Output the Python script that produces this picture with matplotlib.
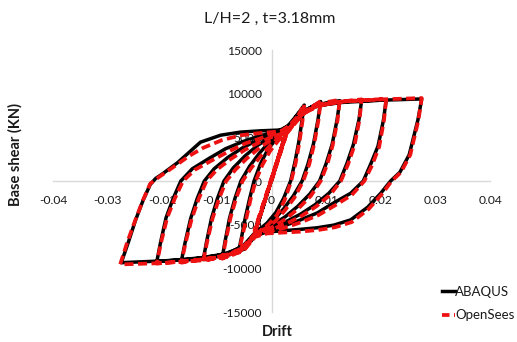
import matplotlib
matplotlib.use("Agg")
import matplotlib.pyplot as plt
from matplotlib.lines import Line2D

# ---------------- data (drift, base shear in kN) ----------------
# ABAQUS (black, solid) - loading history, branch by branch
abq_drift = (
    [0.0, 0.0027, -0.0030, 0.0028, -0.0030]
    + [-0.0015, 0.0027, 0.0045, 0.0060]
    + [0.0056, 0.0050, 0.0043, 0.0035, 0.0022, 0.0008, -0.0008, -0.0025, -0.0040, -0.0060]
    + [-0.0055, -0.0048, -0.0040, -0.0032, -0.0020, -0.0006, 0.0010, 0.0028, 0.0045, 0.0065, 0.0090]
    + [0.0085, 0.0077, 0.0067, 0.0056, 0.0040, 0.0022, 0.0005, -0.0012, -0.0030, -0.0050, -0.0070, -0.0090]
    + [-0.0085, -0.0077, -0.0067, -0.0056, -0.0040, -0.0022, -0.0005, 0.0012, 0.0030, 0.0050, 0.0075, 0.0100, 0.0125]
    + [0.0120, 0.0111, 0.0100, 0.0088, 0.0070, 0.0048, 0.0025, 0.0005, -0.0015, -0.0030, -0.0050, -0.0080, -0.0125]
    + [-0.0119, -0.0110, -0.0099, -0.0087, -0.0070, -0.0048, -0.0025, -0.0005, 0.0015, 0.0035, 0.0055, 0.0085, 0.0125, 0.0165]
    + [0.0160, 0.0150, 0.0138, 0.0125, 0.0105, 0.0080, 0.0053, 0.0025, 0.0000, -0.0020, -0.0030, -0.0050, -0.0080, -0.0120, -0.0165]
    + [-0.0158, -0.0148, -0.0136, -0.0123, -0.0105, -0.0080, -0.0053, -0.0025, 0.0000, 0.0020, 0.0035, 0.0055, 0.0085, 0.0130, 0.0210]
    + [0.0205, 0.0195, 0.0182, 0.0168, 0.0145, 0.0114, 0.0084, 0.0053, 0.0020, -0.0010, -0.0030, -0.0050, -0.0080, -0.0130, -0.0210]
    + [-0.0203, -0.0193, -0.0180, -0.0166, -0.0145, -0.0114, -0.0084, -0.0053, -0.0020, 0.0010, 0.0030, 0.0050, 0.0080, 0.0130, 0.0200, 0.0275]
    + [0.0268, 0.0252, 0.0235, 0.0218, 0.0200, 0.0176, 0.0145, 0.0114, 0.0084, 0.0050, 0.0020, -0.0010, -0.0030, -0.0050, -0.0080, -0.0130, -0.0200, -0.0275]
    + [-0.0262, -0.0249, -0.0235, -0.0222, -0.0212, -0.0200, -0.0172, -0.0130, -0.0093, -0.0057, -0.0020, 0.0020, 0.0040, 0.0060, 0.0080]
)
abq_shear = (
    [0, 5600, -5800, 5700, -5900]
    + [-2800, 5600, 7400, 8700]
    + [7000, 4500, 2200, 0, -2000, -3600, -4800, -5700, -6700, -8000]
    + [-6500, -4200, -2000, 0, 2000, 3700, 4900, 5800, 7000, 8200, 9100]
    + [7000, 4300, 2000, 0, -1700, -3200, -4400, -5200, -5900, -7300, -8000, -8700]
    + [-6900, -4300, -2000, 0, 1700, 3200, 4400, 5200, 6000, 7500, 8500, 8950, 9200]
    + [7000, 4200, 2000, 0, -1500, -2900, -4100, -4900, -5500, -6000, -7500, -8200, -9000]
    + [-7000, -4300, -2000, 0, 1500, 2900, 4100, 4900, 5500, 6300, 7800, 8600, 9050, 9250]
    + [7000, 4200, 2000, 0, -1400, -2700, -3800, -4700, -5300, -5650, -6100, -7600, -8300, -8700, -9150]
    + [-7000, -4300, -2000, 0, 1400, 2700, 3800, 4700, 5300, 5650, 6400, 7900, 8700, 9100, 9300]
    + [7000, 4000, 2000, 0, -1400, -2500, -3650, -4450, -5200, -5650, -6200, -7700, -8400, -8800, -9250]
    + [-7000, -4200, -2000, 0, 1400, 2600, 3700, 4500, 5200, 5650, 6300, 7800, 8600, 9000, 9250, 9400]
    + [7000, 3000, 1000, 0, -1400, -3000, -4450, -5050, -5350, -5550, -5700, -5850, -6300, -7800, -8500, -8900, -9150, -9350]
    + [-7000, -4500, -2200, -400, 300, 800, 2100, 4450, 5250, 5600, 5750, 5850, 6800, 8000, 8700]
)

# OpenSees (red, dashed)
ops_drift = (
    [0.0, 0.0028, -0.0031, 0.0027, -0.0030]
    + [0.0027, 0.0047, 0.0060]
    + [0.0057, 0.0051, 0.0044, 0.0036, 0.0024, 0.0010, -0.0006, -0.0023, -0.0040, -0.0060]
    + [-0.0054, -0.0046, -0.0038, -0.0029, -0.0017, -0.0003, 0.0012, 0.0030, 0.0047, 0.0067, 0.0090]
    + [0.0086, 0.0078, 0.0069, 0.0058, 0.0042, 0.0024, 0.0007, -0.0010, -0.0030, -0.0050, -0.0070, -0.0090]
    + [-0.0084, -0.0075, -0.0065, -0.0053, -0.0037, -0.0019, -0.0002, 0.0014, 0.0032, 0.0052, 0.0077, 0.0102, 0.0125]
    + [0.0121, 0.0112, 0.0102, 0.0090, 0.0072, 0.0050, 0.0027, 0.0007, -0.0013, -0.0030, -0.0050, -0.0080, -0.0125]
    + [-0.0118, -0.0108, -0.0096, -0.0083, -0.0066, -0.0045, -0.0022, -0.0003, 0.0017, 0.0037, 0.0057, 0.0087, 0.0127, 0.0165]
    + [0.0161, 0.0152, 0.0140, 0.0127, 0.0107, 0.0082, 0.0055, 0.0027, 0.0002, -0.0018, -0.0030, -0.0050, -0.0080, -0.0120, -0.0165]
    + [-0.0157, -0.0146, -0.0133, -0.0119, -0.0100, -0.0075, -0.0048, -0.0020, 0.0003, 0.0022, 0.0037, 0.0057, 0.0087, 0.0132, 0.0210]
    + [0.0206, 0.0197, 0.0184, 0.0170, 0.0147, 0.0116, 0.0086, 0.0055, 0.0022, -0.0008, -0.0030, -0.0050, -0.0080, -0.0130, -0.0210]
    + [-0.0202, -0.0191, -0.0177, -0.0162, -0.0140, -0.0108, -0.0078, -0.0048, -0.0015, 0.0012, 0.0032, 0.0052, 0.0082, 0.0132, 0.0202, 0.0275]
    + [0.0269, 0.0254, 0.0237, 0.0220, 0.0202, 0.0178, 0.0147, 0.0116, 0.0086, 0.0052, 0.0022, -0.0008, -0.0030, -0.0050, -0.0080, -0.0130, -0.0200, -0.0277]
    + [-0.0264, -0.0250, -0.0236, -0.0222, -0.0205, -0.0175, -0.0150, -0.0125, -0.0090, -0.0055, -0.0020, 0.0020, 0.0040, 0.0060, 0.0080]
)
ops_shear = (
    [0, 5500, -5700, 5600, -5800]
    + [5500, 7300, 8800]
    + [7000, 4400, 2000, 0, -2200, -3900, -5000, -5800, -6900, -8200]
    + [-6500, -4200, -2000, 0, 1800, 3400, 4600, 5600, 6900, 8200, 9150]
    + [7000, 4200, 1900, 0, -1900, -3400, -4600, -5400, -6000, -7400, -8200, -8900]
    + [-6900, -4200, -2000, 0, 1500, 2900, 4100, 5000, 5900, 7400, 8500, 9050, 9300]
    + [7000, 4100, 1900, 0, -1700, -3100, -4300, -5100, -5700, -6100, -7600, -8400, -9200]
    + [-7000, -4300, -2000, 0, 1300, 2600, 3800, 4600, 5300, 6200, 7700, 8600, 9100, 9350]
    + [7000, 4100, 1900, 0, -1600, -2900, -4000, -4900, -5500, -5800, -6200, -7700, -8500, -8900, -9350]
    + [-7000, -4300, -2000, 0, 1300, 2500, 3600, 4500, 5100, 5500, 6300, 7800, 8700, 9150, 9400]
    + [7000, 3900, 1800, 0, -1600, -2800, -3900, -4700, -5400, -5800, -6300, -7800, -8600, -9000, -9450]
    + [-7000, -4200, -2000, 0, 1300, 2400, 3400, 4300, 5000, 5500, 6300, 7700, 8600, 9100, 9350, 9500]
    + [7000, 3000, 1000, 0, -1500, -3200, -4700, -5300, -5600, -5800, -5900, -6000, -6400, -7900, -8700, -9100, -9400, -9550]
    + [-7000, -4600, -2300, -300, 500, 1800, 2900, 3800, 4700, 5250, 5500, 5700, 6700, 7900, 8700]
)

x_ticks = [-0.04, -0.03, -0.02, -0.01, 0, 0.01, 0.02, 0.03, 0.04]
x_tick_labels = ["-0.04", "-0.03", "-0.02", "-0.01", "0", "0.01", "0.02", "0.03", "0.04"]
y_ticks = [-15000, -10000, -5000, 0, 5000, 10000, 15000]
y_tick_labels = ["-15000", "-10000", "-5000", "0", "5000", "10000", "15000"]

title_text = "L/H=2 , t=3.18mm"
series_names = ["ABAQUS", "OpenSees"]

# ---------------- figure ----------------
plt.rcParams["font.family"] = ["Lato", "DejaVu Sans"]
TXT = "#1a1a1a"
RED = "#ee1111"

fig = plt.figure(figsize=(5.17, 3.42), dpi=100)
ax = fig.add_axes([0.1025, 0.0877, 0.8453, 0.766])

ax.plot(abq_drift, abq_shear, color="black", lw=2.5, solid_joinstyle="round",
        solid_capstyle="round", zorder=3)
ax.plot(ops_drift, ops_shear, color=RED, lw=2.7, linestyle=(0, (2.4, 1.2)),
        zorder=4)

ax.set_xlim(-0.04, 0.04)
ax.set_ylim(-15000, 15000)
ax.set_xticks(x_ticks)
ax.set_xticklabels(x_tick_labels)
ax.set_yticks(y_ticks)
ax.set_yticklabels(y_tick_labels)

for s in ["top", "right"]:
    ax.spines[s].set_visible(False)
ax.spines["left"].set_position(("data", 0))
ax.spines["bottom"].set_position(("data", 0))
for s in ["left", "bottom"]:
    ax.spines[s].set_color("#d9d9d9")
    ax.spines[s].set_linewidth(1.0)
    ax.spines[s].set_zorder(1)

ax.tick_params(axis="both", length=0, labelsize=8.7, labelcolor=TXT)
ax.tick_params(axis="y", pad=7)
ax.tick_params(axis="x", pad=10)
ax.patch.set_alpha(0)

fig.text(0.522, 0.944, title_text, ha="center", va="center", fontsize=11.5, color=TXT)
fig.text(0.029, 0.547, "Base shear (KN)", rotation=90, ha="center", va="center",
         fontsize=10.5, fontweight="bold", color=TXT)
fig.text(0.536, 0.028, "Drift", ha="center", va="center", fontsize=10.5,
         fontweight="bold", color=TXT)

handles = [Line2D([], [], color="black", lw=2.5),
           Line2D([], [], color=RED, lw=2.7, linestyle=(0, (2.0, 1.2)))]
leg = fig.legend(handles, series_names, loc="lower left",
                 bbox_to_anchor=(0.845, 0.045), frameon=False, fontsize=9.5,
                 handlelength=0.95, handletextpad=0.05, labelspacing=0.85,
                 borderaxespad=0)
for t in leg.get_texts():
    t.set_color(TXT)

fig.savefig("out.png", dpi=100, facecolor="white")
